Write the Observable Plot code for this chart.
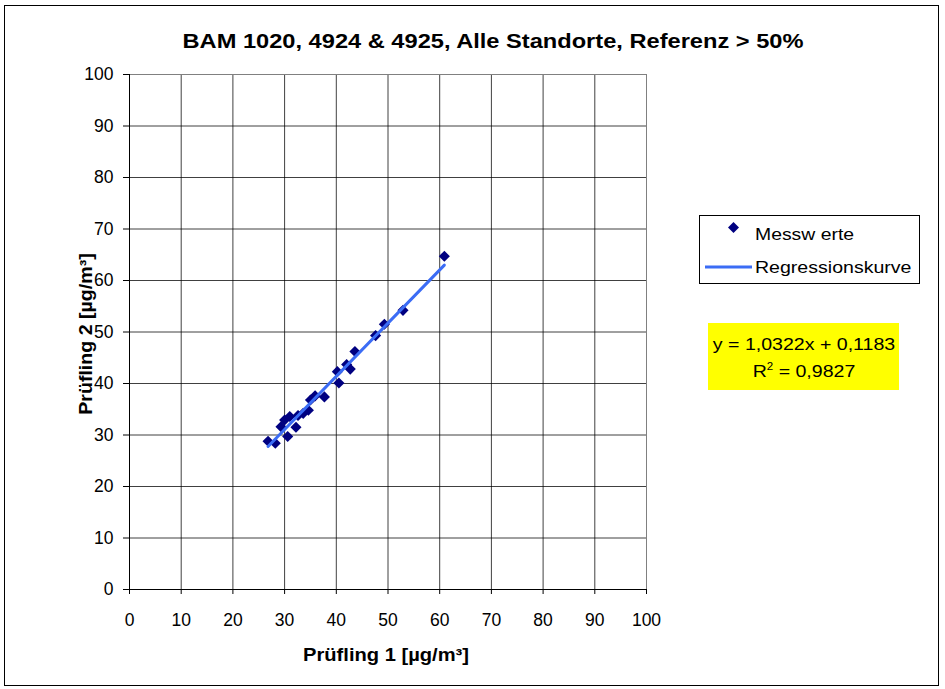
<!DOCTYPE html>
<html><head><meta charset="utf-8">
<script src="https://cdn.jsdelivr.net/npm/d3@7"></script>
<script src="https://cdn.jsdelivr.net/npm/@observablehq/plot@0.6"></script>
<style>
body{margin:0;background:#fff;font-family:"Liberation Sans",Arial,sans-serif;}
#wrap{position:relative;width:945px;height:689px;}
#frame{position:absolute;left:4px;top:5px;width:935px;height:681px;border:1px solid #000;box-sizing:border-box;}
.t{position:absolute;white-space:nowrap;color:#000;line-height:1;}
</style></head>
<body>
<div id="wrap">
<div id="frame"></div>
<div id="chart" style="position:absolute;left:0;top:0"></div>
<div class="t" style="left:493px;top:30px;transform:translateX(-50%) scaleX(1.125);font-weight:bold;font-size:21px;">BAM 1020, 4924 &amp; 4925, Alle Standorte, Referenz &gt; 50%</div>
<div class="t" style="left:386px;top:647px;transform:translateX(-50%) scaleX(1.15);font-weight:bold;font-size:17.5px;">Prüfling 1 [µg/m³]</div>
<div class="t" style="left:87px;top:334px;transform:translate(-50%,-50%) rotate(-90deg) scaleX(1.12);font-weight:bold;font-size:17.5px;">Prüfling 2 [µg/m³]</div>
<div style="position:absolute;left:699px;top:215px;width:221px;height:69px;border:1px solid #000;box-sizing:border-box;background:#fff;"></div>
<svg style="position:absolute;left:699px;top:215px" width="221" height="69">
  <path d="M29,12.5 l5.5,-5.5 l5.5,5.5 l-5.5,5.5z" fill="#000080"/>
  <line x1="6" y1="52" x2="53" y2="52" stroke="#3b6cf5" stroke-width="3"/>
</svg>
<div class="t" style="left:755px;top:226px;transform:scaleX(1.14);transform-origin:left;font-size:17px;">Messw erte</div>
<div class="t" style="left:755px;top:259px;transform:scaleX(1.15);transform-origin:left;font-size:17px;">Regressionskurve</div>
<div style="position:absolute;left:708px;top:323px;width:191px;height:67px;background:#ffff00;"></div>
<div class="t" id="eq1" style="left:803.5px;top:335.6px;transform:translateX(-50%) scaleX(1.15);font-size:17px;"></div>
<div class="t" id="eq2" style="left:803.5px;top:361.6px;transform:translateX(-50%) scaleX(1.15);font-size:17px;"></div>
</div>
<script>
const xs = [26.8, 28.2, 29.3, 30.0, 30.6, 31.0, 32.2, 32.6, 33.6, 34.6, 35.0, 35.9, 37.7, 40.2, 40.5, 42.0, 42.7, 43.6, 47.6, 49.3, 52.9, 60.9];
const ys = [28.8, 28.4, 31.6, 32.9, 29.7, 33.6, 31.5, 33.8, 34.2, 34.8, 36.8, 37.6, 37.4, 42.3, 40.1, 43.7, 42.8, 46.2, 49.3, 51.5, 54.2, 64.7];
const slope = [1.0322];
const intercept = [0.1183];
const r2 = [0.9827];
const ticks = [0, 10, 20, 30, 40, 50, 60, 70, 80, 90, 100];

const pts = xs.map((x, i) => ({x, y: ys[i]}));
const x0 = d3.min(xs), x1 = d3.max(xs);
const reg = [x0, x1].map(x => ({x, y: slope[0] * x + intercept[0]}));

const fmt = v => String(v).replace(".", ",");
document.getElementById("eq1").textContent = `y = ${fmt(slope[0])}x + ${fmt(intercept[0])}`;
document.getElementById("eq2").innerHTML = `R<sup style="font-size:10px;vertical-align:7px">2</sup> = ${fmt(r2[0])}`;

const chart = Plot.plot({
  width: 945, height: 689,
  marginLeft: 129, marginRight: 299, marginTop: 74, marginBottom: 100,
  style: {fontFamily: "Liberation Sans, Arial, sans-serif", fontSize: "17.5px", color: "#000", background: "transparent"},
  x: {domain: [0, 100], ticks, label: null},
  y: {domain: [0, 100], ticks, label: null},
  marks: [
    Plot.gridX(ticks, {stroke: "#000", strokeOpacity: 0.75}),
    Plot.gridY(ticks, {stroke: "#000", strokeOpacity: 0.75}),
    Plot.frame({stroke: "#808080"}),
    Plot.ruleX([0], {stroke: "#000"}),
    Plot.ruleY([0], {stroke: "#000"}),
    Plot.axisX(ticks, {tickSize: 5, tickPadding: 19, tickFormat: d => d, fontSize: 17.5}),
    Plot.axisY(ticks, {tickSize: 6, tickPadding: 10, tickFormat: d => d, fontSize: 17.5}),
    Plot.dot(pts, {x: "x", y: "y", symbol: "diamond2", r: 5, fill: "#000080", stroke: "none"}),
    Plot.line(reg, {x: "x", y: "y", stroke: "#3b6cf5", strokeWidth: 3})
  ]
});
document.getElementById("chart").appendChild(chart);
</script>
</body></html>
